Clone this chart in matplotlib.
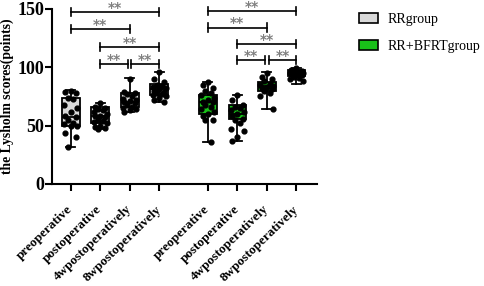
import numpy as np
import matplotlib
matplotlib.use("Agg")
import matplotlib.pyplot as plt
import matplotlib.transforms as mtrans
from matplotlib.patches import Patch

plt.rcParams['font.family'] = ['Liberation Serif', 'DejaVu Serif']

# data
categories = ["preoperative", "postoperative", "4wpostoperatively", "8wpostoperatively"]
groups = ["RRgroup", "RR+BFRTgroup"]
group_colors = ["#d9d9d9", "#19c019"]

# box stats per time point: (whislo, q1, median, q3, whishi)
rr_stats = [(32, 50, 57.5, 73.5, 80.5),
            (47, 52.5, 58, 65.5, 69.5),
            (62, 65.5, 70.5, 77.5, 90.5),
            (70, 76.5, 81, 85.5, 96)]
bfrt_stats = [(35.5, 60, 70.5, 76.5, 87),
              (36.5, 55.5, 59.5, 68, 76),
              (64, 80, 83.5, 87.5, 95.5),
              (85.5, 92.5, 95, 97.5, 99.5)]

rr_points = [
    [80, 79, 78, 74, 73, 68, 65, 62, 58, 57, 55, 52, 51, 50, 50, 44, 40, 32],
    [69, 66, 65, 64, 63, 62, 60, 58, 58, 57, 55, 54, 53, 52, 50, 49, 48, 47],
    [90, 79, 78, 77, 75, 73, 72, 71, 70, 69, 68, 66, 65, 64, 63, 62],
    [96, 90, 87, 85, 84, 83, 82, 81, 80, 79, 78, 77, 76, 75, 74, 72, 70],
]
bfrt_points = [
    [87, 85, 82, 80, 78, 76, 74, 72, 70, 70, 68, 66, 64, 62, 60, 58, 55, 55, 36],
    [76, 72, 68, 66, 65, 63, 62, 60, 58, 56, 55, 52, 47, 45, 40, 37],
    [95, 92, 90, 88, 86, 85, 84, 83, 82, 81, 80, 78, 75, 64],
    [99, 98, 97, 96, 96, 95, 95, 94, 94, 93, 92, 91, 90, 88],
]

# significance brackets: (box a, box b, y)
sig_pairs = [(0, 3, 147), (0, 2, 133), (1, 3, 117.5), (1, 2, 102.5), (2, 3, 102.5),
             (4, 7, 148.5), (4, 6, 134), (5, 7, 120), (5, 6, 106), (6, 7, 106)]
sig_label = "**"

positions = [1, 2, 3, 4, 5.65, 6.65, 7.65, 8.65]

fig = plt.figure(figsize=(4.84, 2.86), dpi=100)
ax = fig.add_axes([0.107, 0.357, 0.548, 0.612])

all_stats = rr_stats + bfrt_stats
all_points = rr_points + bfrt_points
box_colors = [group_colors[0]] * 4 + [group_colors[1]] * 4

bstats = []
for s in all_stats:
    bstats.append(dict(whislo=s[0], q1=s[1], med=s[2], q3=s[3], whishi=s[4], fliers=[]))

bp = ax.bxp(bstats, positions=positions, widths=0.6, patch_artist=True,
            showfliers=False,
            boxprops=dict(edgecolor='black', linewidth=1.3),
            whiskerprops=dict(color='black', linewidth=1.3),
            capprops=dict(color='black', linewidth=1.3),
            medianprops=dict(color='black', linewidth=1.3),
            capwidths=0.3)
for patch, c in zip(bp['boxes'], box_colors):
    patch.set_facecolor(c)

# scatter points with a simple spread
spread = [0, -0.18, 0.18, -0.09, 0.09, -0.22, 0.22]
for pos, pts in zip(positions, all_points):
    xs = [pos + spread[i % len(spread)] for i in range(len(pts))]
    ax.scatter(xs, pts, s=12, color='black', zorder=3)

# brackets
for a, b, y in sig_pairs:
    xa, xb = positions[a], positions[b]
    if (a, b) in [(1, 2), (5, 6)]:
        xb -= 0.06
    if (a, b) in [(2, 3), (6, 7)]:
        xa += 0.06
    ax.plot([xa, xb], [y, y], color='black', lw=1.2, clip_on=False)
    ax.plot([xa, xa], [y - 3.5, y + 3.5], color='black', lw=1.2, clip_on=False)
    ax.plot([xb, xb], [y - 3.5, y + 3.5], color='black', lw=1.2, clip_on=False)
    ax.text((xa + xb) / 2, y + 3.5, sig_label, ha='center', va='center',
            fontsize=10, color='#808080', fontweight='bold',
            family=['DejaVu Sans'])

ax.set_ylim(0, 150)
ax.set_xlim(0.36, 9.35)
ax.set_yticks([0, 50, 100, 150])
ax.set_xticks(positions)
ax.set_xticklabels(categories * 2, rotation=44, ha='right', va='center',
                   rotation_mode='anchor', fontsize=9.5, fontweight='bold')
shift = mtrans.ScaledTranslation(4 / 72, 0, fig.dpi_scale_trans)
for lab in ax.get_xticklabels():
    lab.set_transform(lab.get_transform() + shift)
for lab in ax.get_yticklabels():
    lab.set_fontweight('bold')
    lab.set_fontsize(13)
ax.set_ylabel("the Lysholm scores(points)", fontsize=9.8, fontweight='bold', labelpad=2)

ax.spines['top'].set_visible(False)
ax.spines['right'].set_visible(False)
ax.spines['left'].set_linewidth(1.5)
ax.spines['bottom'].set_linewidth(1.5)
ax.tick_params(width=1.5, length=5)
ax.tick_params(axis='x', pad=12)
ax.tick_params(axis='y', pad=0.5)

handles = [Patch(facecolor=c, edgecolor='black', linewidth=1.2) for c in group_colors]
fig.legend(handles, groups, loc='upper left', bbox_to_anchor=(0.735, 0.965),
           frameon=False, fontsize=10, handlelength=1.4, handleheight=0.7,
           labelspacing=1.0, handletextpad=0.7, borderaxespad=0, borderpad=0.2)

fig.savefig("out.png", dpi=100)
